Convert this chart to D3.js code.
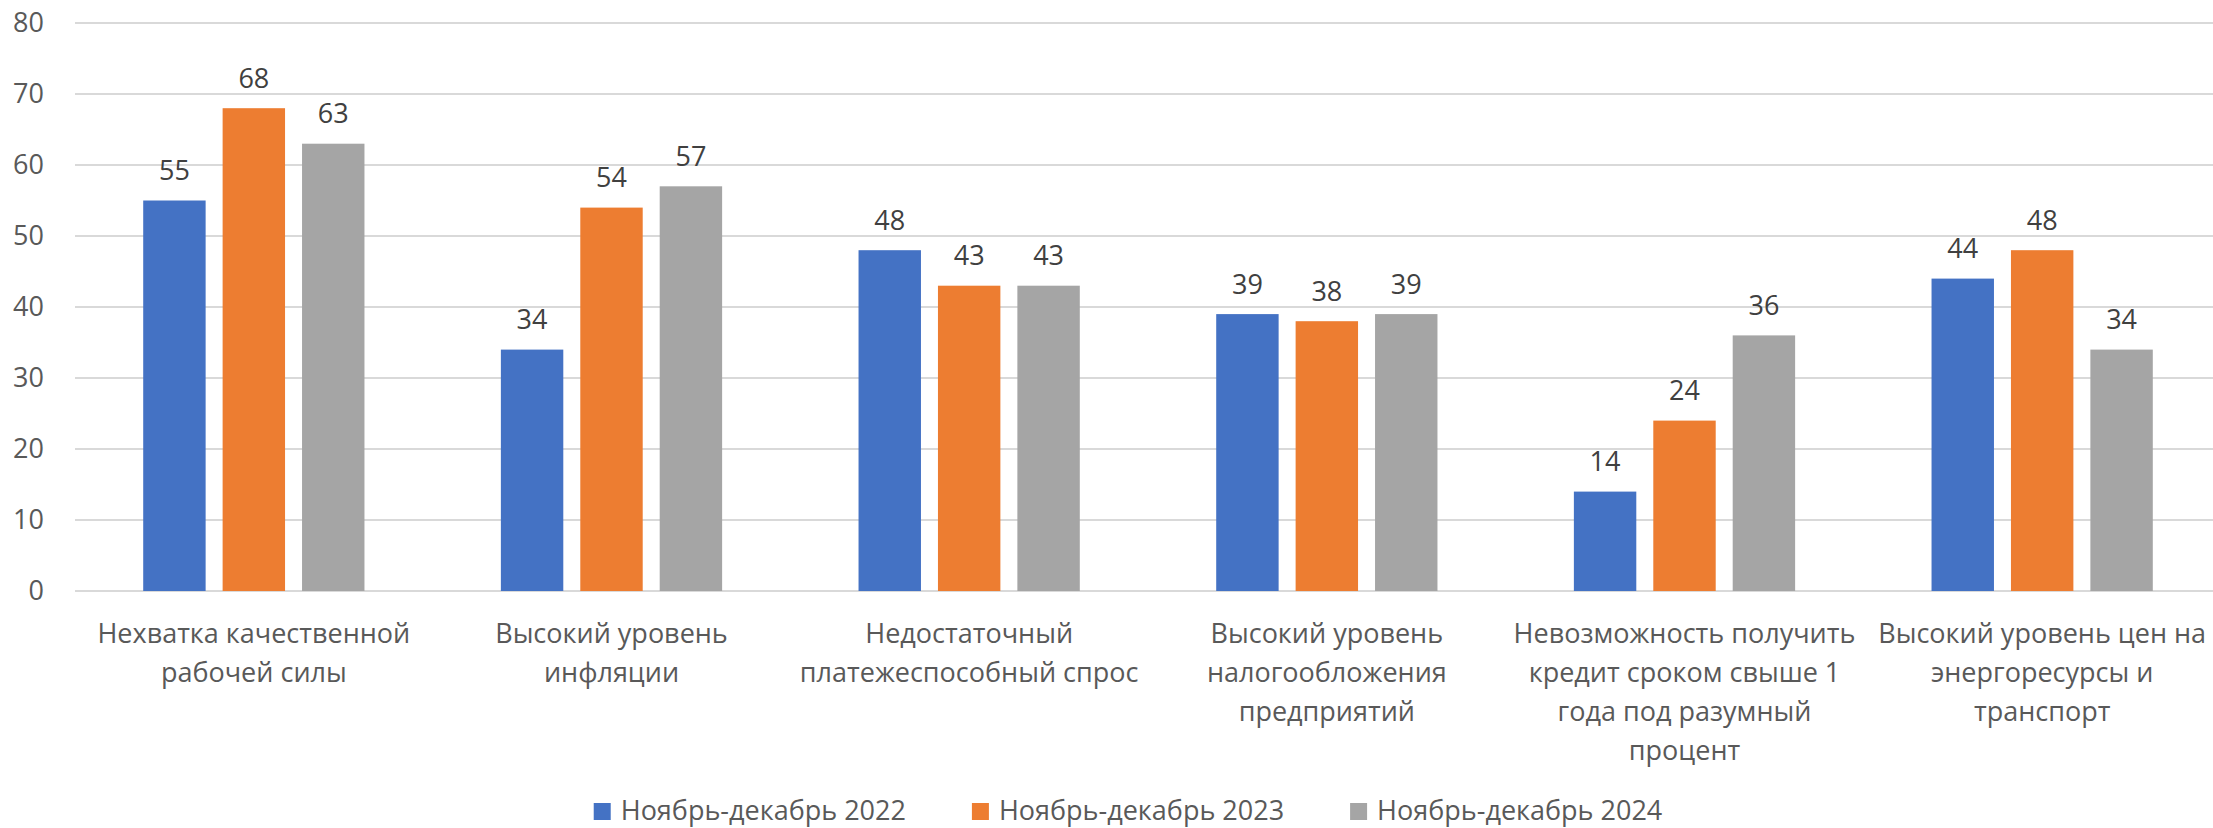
<!DOCTYPE html>
<html>
<head>
<meta charset="utf-8">
<script src="https://cdn.jsdelivr.net/npm/d3@7"></script>
<style>
  html, body { margin: 0; padding: 0; background: #ffffff; }
  svg { display: block; }
  text { font-family: "Open Sans", "Noto Sans", sans-serif; }
</style>
</head>
<body>
<svg id="chart" width="2213" height="828"></svg>
<script>
// Category labels, one entry per line of the wrapped label
const categories = [
  ["Нехватка качественной", "рабочей силы"],
  ["Высокий уровень", "инфляции"],
  ["Недостаточный", "платежеспособный спрос"],
  ["Высокий уровень", "налогообложения", "предприятий"],
  ["Невозможность получить", "кредит сроком свыше 1", "года под разумный", "процент"],
  ["Высокий уровень цен на", "энергоресурсы и", "транспорт"]
];

const seriesNames = ["Ноябрь-декабрь 2022", "Ноябрь-декабрь 2023", "Ноябрь-декабрь 2024"];
const values2022 = [55, 34, 48, 39, 14, 44];
const values2023 = [68, 54, 43, 38, 24, 48];
const values2024 = [63, 57, 43, 39, 36, 34];
const seriesColors = ["#4472C4", "#ED7D31", "#A5A5A5"];
const yTicks = [0, 10, 20, 30, 40, 50, 60, 70, 80];

const seriesValues = [values2022, values2023, values2024];
const catKeys = categories.map((c, i) => i);

const svg = d3.select("#chart");
const fontSize = 27;

// Plot area (the right edge runs past the visible canvas)
const plotLeft = 75, plotRight = 2221, plotTop = 23, plotBottom = 591;

const y = d3.scaleLinear().domain([0, 80]).range([plotBottom, plotTop]);
const x0 = d3.scaleBand().domain(catKeys).range([plotLeft, plotRight]).padding(0);
const groupWidth = x0.bandwidth() * 0.6186;
const x1 = d3.scaleBand().domain(d3.range(seriesNames.length))
  .range([0, groupWidth]).paddingInner(0.214).paddingOuter(0);
const groupOffset = (x0.bandwidth() - groupWidth) / 2;

// Horizontal gridlines
svg.append("g")
  .selectAll("line")
  .data(yTicks)
  .join("line")
  .attr("x1", plotLeft).attr("x2", plotRight)
  .attr("y1", d => y(d)).attr("y2", d => y(d))
  .attr("stroke", "#d9d9d9")
  .attr("stroke-width", 1.8);

// Y axis tick labels
const yAxis = d3.axisLeft(y).tickValues(yTicks).tickSize(0).tickPadding(0);
const yAxisG = svg.append("g").attr("transform", `translate(44,0)`).call(yAxis);
yAxisG.select(".domain").remove();
yAxisG.selectAll("text")
  .attr("fill", "#595959")
  .style("font-size", fontSize + "px")
  .style("font-family", '"Open Sans", "Noto Sans", sans-serif');

// Bars
const groups = svg.append("g")
  .selectAll("g")
  .data(catKeys)
  .join("g")
  .attr("transform", d => `translate(${x0(d) + groupOffset},0)`);

groups.selectAll("rect")
  .data(ci => seriesValues.map((vals, si) => ({ si, v: vals[ci] })))
  .join("rect")
  .attr("x", d => x1(d.si))
  .attr("width", x1.bandwidth())
  .attr("y", d => y(d.v))
  .attr("height", d => y(0) - y(d.v))
  .attr("fill", d => seriesColors[d.si]);

// Value labels above bars
groups.selectAll("text.val")
  .data(ci => seriesValues.map((vals, si) => ({ si, v: vals[ci] })))
  .join("text")
  .attr("class", "val")
  .attr("x", d => x1(d.si) + x1.bandwidth() / 2)
  .attr("y", d => y(d.v) - 20.5)
  .attr("text-anchor", "middle")
  .attr("fill", "#404040")
  .style("font-size", fontSize + "px")
  .text(d => d.v);

// Category labels under the axis
const catG = svg.append("g");
categories.forEach((lines, ci) => {
  const cx = x0(ci) + x0.bandwidth() / 2;
  const t = catG.append("text")
    .attr("text-anchor", "middle")
    .attr("fill", "#595959")
    .style("font-size", fontSize + "px");
  lines.forEach((line, li) => {
    t.append("tspan")
      .attr("x", cx)
      .attr("y", plotBottom + 52 + li * 39)
      .text(line);
  });
});

// Legend, centred below the chart
const legendG = svg.append("g");
const items = legendG.selectAll("g")
  .data(seriesNames)
  .join("g");
items.append("rect")
  .attr("width", 17).attr("height", 17)
  .attr("y", 803)
  .attr("fill", (d, i) => seriesColors[i]);
items.append("text")
  .attr("x", 27)
  .attr("y", 820)
  .attr("fill", "#595959")
  .style("font-size", fontSize + "px")
  .text(d => d);

const itemGap = 66;
let cursor = 0;
const offsets = [];
items.each(function () {
  const w = 27 + d3.select(this).select("text").node().getComputedTextLength();
  offsets.push(cursor);
  cursor += w + itemGap;
});
const totalWidth = cursor - itemGap;
const legendStart = 1128 - totalWidth / 2;
items.attr("transform", (d, i) => `translate(${legendStart + offsets[i]},0)`);
</script>
</body>
</html>
